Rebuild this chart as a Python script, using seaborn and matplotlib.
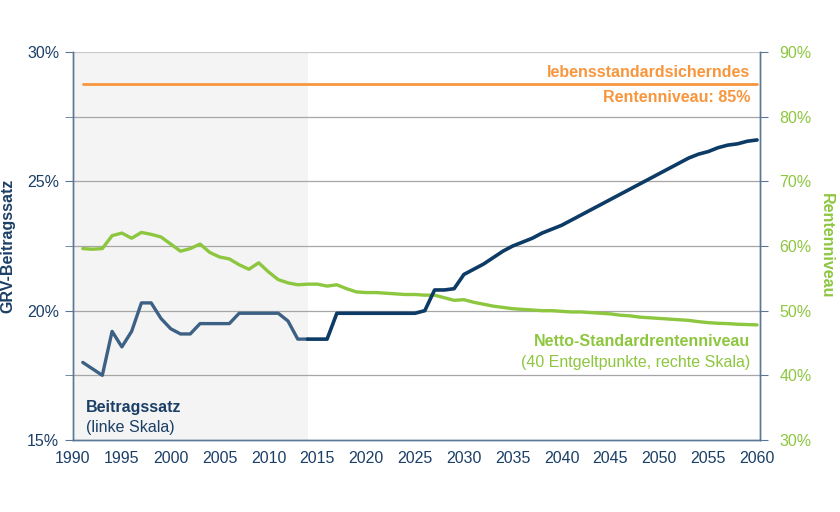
import numpy as np
import pandas as pd
import matplotlib.pyplot as plt
import seaborn as sns
from matplotlib.ticker import MultipleLocator, FuncFormatter

# Jahre 1991-2060
years = list(range(1991, 2061))

# GRV-Beitragssatz in % (linke Skala)
beitragssatz = [
    18.0, 17.75, 17.5, 19.2, 18.6, 19.2, 20.3, 20.3, 19.7, 19.3,
    19.1, 19.1, 19.5, 19.5, 19.5, 19.5, 19.9, 19.9, 19.9, 19.9,
    19.9, 19.6, 18.9, 18.9, 18.9, 18.9, 19.9, 19.9, 19.9, 19.9,
    19.9, 19.9, 19.9, 19.9, 19.9, 20.0, 20.8, 20.8, 20.85, 21.4,
    21.6, 21.8, 22.05, 22.3, 22.5, 22.65, 22.8, 23.0, 23.15, 23.3,
    23.5, 23.7, 23.9, 24.1, 24.3, 24.5, 24.7, 24.9, 25.1, 25.3,
    25.5, 25.7, 25.9, 26.05, 26.15, 26.3, 26.4, 26.45, 26.55, 26.6,
]

# Netto-Standardrentenniveau in % (rechte Skala)
rentenniveau = [
    59.6, 59.5, 59.6, 61.6, 62.0, 61.2, 62.1, 61.8, 61.4, 60.3,
    59.2, 59.6, 60.3, 59.0, 58.3, 58.0, 57.1, 56.4, 57.4, 56.0,
    54.8, 54.3, 54.0, 54.1, 54.1, 53.8, 54.0, 53.4, 52.9, 52.8,
    52.8, 52.7, 52.6, 52.5, 52.5, 52.4, 52.4, 52.0, 51.6, 51.7,
    51.3, 51.0, 50.7, 50.5, 50.3, 50.2, 50.1, 50.0, 50.0, 49.9,
    49.8, 49.8, 49.7, 49.6, 49.5, 49.3, 49.2, 49.0, 48.9, 48.8,
    48.7, 48.6, 48.5, 48.3, 48.15, 48.05, 48.0, 47.9, 47.85, 47.8,
]

# Lebensstandardsicherndes Rentenniveau
ziel_jahre = [1991, 2060]
ziel_niveau = [85, 85]

letztes_ist_jahr = 2014

df = pd.DataFrame({"jahr": years, "beitrag": beitragssatz, "niveau": rentenniveau})
ist = df[df["jahr"] <= letztes_ist_jahr]
prognose = df[df["jahr"] >= letztes_ist_jahr]

NAVY = "#1b3f66"
BLUE_HIST = "#3d6184"
BLUE_PROG = "#0c3b66"
GREEN = "#8dc63f"
ORANGE = "#f7963d"
GRID = "#a6a6a6"
SPINE = "#5a7795"

sns.set_style("white")
plt.rcParams["font.family"] = ["Liberation Sans", "DejaVu Sans"]

fig = plt.figure(figsize=(8.4, 5.12), dpi=100)
ax = fig.add_axes([73 / 840, 72 / 512, 687 / 840, 388 / 512])
ax2 = ax.twinx()

# Hintergrund Ist-Zeitraum (auf der unteren Achse)
ax2.axvspan(1990, letztes_ist_jahr, color="#f4f4f4", zorder=0, lw=0)

# Gitterlinien (alle 10 % rechte Skala)
for v in [40, 50, 60, 70, 80]:
    ax2.axhline(v, color=GRID, lw=0.9, zorder=1)
ax2.axhline(90, color="#c8c8c8", lw=0.9, zorder=1)

sns.lineplot(x=ziel_jahre, y=ziel_niveau, ax=ax2, color=ORANGE, lw=2.0, zorder=3)
sns.lineplot(data=df, x="jahr", y="niveau", ax=ax2, color=GREEN, lw=2.4, zorder=3)
sns.lineplot(data=ist, x="jahr", y="beitrag", ax=ax, color=BLUE_HIST, lw=2.4, zorder=4)
sns.lineplot(data=prognose, x="jahr", y="beitrag", ax=ax, color=BLUE_PROG, lw=2.6, zorder=4)

# Beitragssatz-Achse oben, Hintergrund von ax2
ax.set_zorder(ax2.get_zorder() + 1)
ax.patch.set_visible(False)
ax2.patch.set_visible(True)
ax2.patch.set_facecolor("white")
fig.patch.set_facecolor("white")

ax.set_xlim(1990, 2060.3)
ax.set_ylim(15, 30)
ax2.set_ylim(30, 90)

ax.xaxis.set_major_locator(MultipleLocator(5))
ax.xaxis.set_minor_locator(MultipleLocator(1))
ax.yaxis.set_major_locator(MultipleLocator(5))
ax.yaxis.set_minor_locator(MultipleLocator(2.5))
ax2.yaxis.set_major_locator(MultipleLocator(10))
pct = FuncFormatter(lambda v, p: f"{v:.0f}%")
ax.yaxis.set_major_formatter(pct)
ax2.yaxis.set_major_formatter(pct)

for a in (ax, ax2):
    for s in a.spines.values():
        s.set_color(SPINE)
        s.set_linewidth(1.0)
    a.spines["top"].set_visible(False)

ax.tick_params(axis="x", which="major", direction="out", length=5, color=SPINE,
               labelsize=11.5, labelcolor=NAVY, pad=3)
ax.tick_params(axis="x", which="minor", direction="out", length=3, color=SPINE)
ax.tick_params(axis="y", which="both", direction="out", length=6, color=SPINE,
               labelsize=11.5, labelcolor=NAVY, pad=4)
ax2.tick_params(axis="y", direction="out", length=6, color=SPINE,
                labelsize=11.5, labelcolor=GREEN, pad=8)

ax.set_xlabel("")
ax.set_ylabel("GRV-Beitragssatz", fontsize=11.5, fontweight="bold", color=NAVY, labelpad=8)
ax2.set_ylabel("Rentenniveau", fontsize=11.5, fontweight="bold", color=GREEN,
               rotation=-90, labelpad=16)

# Beschriftungen
ax.text(0.9854, 0.946, "lebensstandardsicherndes", transform=ax.transAxes, ha="right",
        va="center", fontsize=11.5, fontweight="bold", color=ORANGE)
ax.text(0.9854, 0.884, "Rentenniveau: 85%", transform=ax.transAxes, ha="right",
        va="center", fontsize=11.5, fontweight="bold", color=ORANGE)
ax.text(0.9854, 0.2526, "Netto-Standardrentenniveau", transform=ax.transAxes, ha="right",
        va="center", fontsize=11.5, fontweight="bold", color=GREEN)
ax.text(0.9854, 0.201, "(40 Entgeltpunkte, rechte Skala)", transform=ax.transAxes, ha="right",
        va="center", fontsize=11.5, color=GREEN)
ax.text(0.019, 0.0825, "Beitragssatz", transform=ax.transAxes, ha="left",
        va="center", fontsize=11.5, fontweight="bold", color=NAVY)
ax.text(0.019, 0.0335, "(linke Skala)", transform=ax.transAxes, ha="left",
        va="center", fontsize=11.5, color=NAVY)

fig.savefig("out.png", dpi=100)
